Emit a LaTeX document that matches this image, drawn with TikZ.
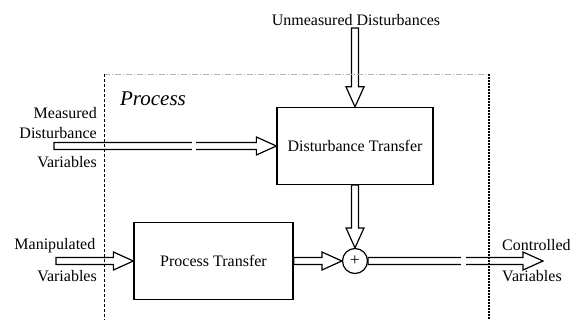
\documentclass[tikz,border=0pt]{standalone}
\usepackage{fontspec}
\setmainfont{Liberation Serif}
\usetikzlibrary{calc,backgrounds}

\tikzset{
  lbl/.style={font=\fontsize{16}{20}\selectfont, inner sep=0pt},
  block/.style={draw, line width=1.3pt, minimum width=156pt, minimum height=77pt, inner sep=0pt,
      font=\fontsize{16}{20}\selectfont},
  sumnode/.style={draw, circle, fill=white, line width=1.2pt, minimum size=25pt, inner sep=0pt,
      font=\fontsize{17}{17}\selectfont},
  hollow/.style={line width=1.2pt, line join=miter, to path={
      let \p1=(\tikztostart), \p2=(\tikztotarget),
          \n1={atan2(\y2-\y1,\x2-\x1)}, \n2={veclen(\x2-\x1,\y2-\y1)} in
      {[shift={(\p1)}, rotate=\n1]
        (0pt,3.5pt) -- ({\n2*1pt-20pt},3.5pt) -- ({\n2*1pt-20pt},9pt) -- ({\n2*1pt},0pt)
        -- ({\n2*1pt-20pt},-9pt) -- ({\n2*1pt-20pt},-3.5pt) -- (0pt,-3.5pt) -- cycle}}}
}

\begin{document}
\begin{tikzpicture}[x=1pt, y=-1pt]
    \useasboundingbox (0,0) rectangle (572,320);

    % process frame
    \draw[gray!60, line width=0.5pt, dash pattern=on 6pt off 2pt on 1pt off 2pt] (104,74) -- (489,74);
    \draw[line width=0.7pt, dash pattern=on 3pt off 2pt] (104,74) -- (104,320);
    \draw[line width=1.4pt, dash pattern=on 2pt off 1pt] (489,74) -- (489,320);
    \node[lbl, font=\fontsize{21}{24}\selectfont\itshape] (proclabel) at (153,99) {Process};

    % blocks
    \node[block] (dist) at (355,146) {Disturbance Transfer};
    \node[block, minimum width=159pt] (proc) at (213.5,261) {Process Transfer};
    \node[sumnode] (sum) at (355,261) {+};

    % labels
    \node[lbl] (undist) at (356,20) {Unmeasured Disturbances};
    \node[lbl, anchor=east, align=right] (mdist) at (97,123) {Measured\\Disturbance};
    \node[lbl, anchor=east] (mvar) at (97,162) {Variables};
    \node[lbl, anchor=east] (manip) at (95.5,246) {Manipulated};
    \node[lbl, anchor=east] (manvar) at (97,276) {Variables};
    \node[lbl, anchor=west] (contr) at (502,245) {Controlled};
    \node[lbl, anchor=west] (convar) at (502,276) {Variables};

    % free ends
    \coordinate (undtail) at (355,28);
    \coordinate (mdtail) at (54,146);
    \coordinate (mvtail) at (56,261);
    \coordinate (cvtip) at (543,261);

    % signal arrows
    \begin{pgfonlayer}{background}
        \draw[hollow] (undtail) to (dist.north);
        \draw[hollow] (mdtail) to (dist.west);
        \draw[hollow] (mvtail) to (proc.west);
        \draw[hollow] (proc.east) to (sum.west);
        \draw[hollow] (dist.south) to (sum.north);
        \draw[hollow] (sum.east) to (cvtip);
    \end{pgfonlayer}

    % breaks
    \fill[white] (192,139) rectangle (195.5,153);
    \fill[white] (461,254) rectangle (466,268);
\end{tikzpicture}
\end{document}
